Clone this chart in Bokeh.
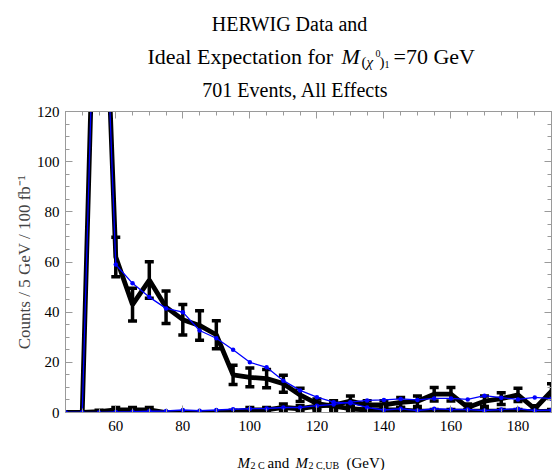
import math
from bokeh.plotting import figure
from bokeh.layouts import column
from bokeh.models import (Range1d, LinearAxis, Whisker, ColumnDataSource, Label,
                          TeeHead, SingleIntervalTicker)
from bokeh.embed import file_html
from bokeh.resources import INLINE

# ---------------- data ----------------
bins = [45, 50, 55, 60, 65, 70, 75, 80, 85, 90, 95, 100, 105, 110, 115, 120,
        125, 130, 135, 140, 145, 150, 155, 160, 165, 170, 175, 180, 185, 190]

# HERWIG data, M2C
data_m2c = [0, 0, 240, 62, 43, 52.8, 42, 37, 34.7, 31, 15, 14, 13.5, 11.5, 7, 3.5,
            2.5, 1.5, 1, 1, 1, 0.5, 0.5, 0.5, 0.5, 0.5, 0.5, 0.5, 0.3, 0.5]
# HERWIG data, M2C,UB
data_ub = [0, 0, 0.3, 1, 1, 1, 0, 0, 0, 0, 0.3, 1, 1, 2, 1.5, 2.5,
           3, 4.5, 3, 3, 4, 4.5, 7.3, 7.3, 2, 4.5, 5.5, 7, 1.5, 8.5]
# ideal expectation, M2C
ideal_m2c = [0, 0, 235, 59, 51.5, 46, 41.5, 40, 32.7, 29.6, 25, 20, 18, 12.7, 8.8, 6.1,
             4.1, 3.7, 2, 1, 1.5, 0.8, 1.5, 1.2, 1.2, 0.8, 1.2, 1.5, 0.8, 1]
# ideal expectation, M2C,UB
ideal_ub = [0, 0, 0, 0.2, 0.3, 0.5, 0.6, 1, 0.7, 1, 1.3, 1.5, 1.6, 2, 2, 2.7,
            3.2, 4.1, 4.8, 5, 5.4, 5, 5.6, 5.6, 5.2, 6.7, 5.9, 5.2, 6, 5.5]

x_tick_step = 20
y_tick_step = 20

SERIF = "Liberation Serif"
AX = "#9a9a9a"
W = 552
TOP_H = 100
MAIN_H = 343
BOT_H = 27
FRAME_LEFT = 65

# ---------------- main plot ----------------
p = figure(width=W, height=MAIN_H, output_backend="svg", toolbar_location=None,
           x_range=Range1d(45, 190), y_range=Range1d(0, 120),
           min_border_left=FRAME_LEFT, min_border_right=1, min_border_top=11,
           min_border_bottom=31, x_axis_location=None, y_axis_location=None)
p.xgrid.visible = False
p.ygrid.visible = False
p.outline_line_color = AX


def style_axis(ax, labels):
    ax.axis_line_color = AX
    ax.major_tick_line_color = AX
    ax.minor_tick_line_color = AX
    ax.major_tick_in = 7
    ax.major_tick_out = 0
    ax.minor_tick_in = 4
    ax.minor_tick_out = 0
    ax.major_label_text_font = SERIF
    ax.major_label_text_font_size = "15px"
    ax.major_label_text_color = "black"
    if not labels:
        ax.major_label_text_color = None
        ax.major_label_text_font_size = "0px"
        ax.major_label_standoff = 0


bx = LinearAxis(ticker=SingleIntervalTicker(interval=x_tick_step, num_minor_ticks=4))
style_axis(bx, True)
bx.major_label_standoff = 8
p.add_layout(bx, "below")
tx = LinearAxis(ticker=SingleIntervalTicker(interval=x_tick_step, num_minor_ticks=4))
style_axis(tx, False)
p.add_layout(tx, "above")

ly = LinearAxis(ticker=SingleIntervalTicker(interval=y_tick_step, num_minor_ticks=4))
style_axis(ly, True)
ly.major_label_standoff = 6
ly.axis_label = "Counts / 5 GeV / 100 fb\u207b\u00b9"
ly.axis_label_text_font = SERIF
ly.axis_label_text_font_style = "normal"
ly.axis_label_text_font_size = "17px"
ly.axis_label_standoff = 0
p.add_layout(ly, "left")
ry = LinearAxis(ticker=SingleIntervalTicker(interval=y_tick_step, num_minor_ticks=4))
style_axis(ry, False)
p.add_layout(ry, "right")

src_m = ColumnDataSource(dict(x=bins, y=data_m2c,
                              lo=[v - math.sqrt(v) for v in data_m2c],
                              hi=[v + math.sqrt(v) for v in data_m2c]))
src_u = ColumnDataSource(dict(x=bins, y=data_ub,
                              lo=[v - math.sqrt(v) for v in data_ub],
                              hi=[v + math.sqrt(v) for v in data_ub]))

for src in (src_u, src_m):
    p.line("x", "y", source=src, line_color="black", line_width=4.8)
    wk = Whisker(base="x", lower="lo", upper="hi", source=src,
                 line_color="black", line_width=3.5,
                 upper_head=TeeHead(size=9, line_color="black", line_width=3.5),
                 lower_head=TeeHead(size=9, line_color="black", line_width=3.5))
    p.add_layout(wk)

for ys in (ideal_ub, ideal_m2c):
    p.line(bins, ys, line_color="#0000ff", line_width=1.3)
    p.scatter(bins, ys, size=4.5, fill_color="#0000ff", line_color=None)


# ---------------- title and x label strips ----------------
def strip(h):
    f = figure(width=W, height=h, output_backend="svg", toolbar_location=None,
               x_range=Range1d(0, W), y_range=Range1d(0, h),
               min_border=0, x_axis_location=None, y_axis_location=None)
    f.xgrid.visible = False
    f.ygrid.visible = False
    f.outline_line_color = None
    return f


top = strip(TOP_H)
bot = strip(BOT_H)


def lab(fig, top_y, text, x, y, size, style="normal", align="left"):
    # x, y : page pixel position (baseline); frames are aligned at FRAME_LEFT
    h = fig.height
    fig.add_layout(Label(x=x - FRAME_LEFT, y=h - (y - top_y),
                         x_units="screen", y_units="screen",
                         text=text, text_font=SERIF, text_font_size=size,
                         text_font_style=style, text_align=align,
                         text_baseline="alphabetic", text_color="black"))


lab(top, 0, "HERWIG Data and", 289, 23, "20px", align="center")
lab(top, 0, "Ideal Expectation for", 147, 56, "22px")
lab(top, 0, "M", 341, 56, "22px", "italic")
lab(top, 0, "(", 361, 61, "15px")
lab(top, 0, "\u03c7", 366, 61, "15px", "italic")
lab(top, 0, "0", 375, 53, "10px")
lab(top, 0, ")", 379, 61, "15px")
lab(top, 0, "1", 384, 64, "10px")
lab(top, 0, "=70 GeV", 393, 56, "22px")
lab(top, 0, "701 Events, All Effects", 295, 89, "20px", align="center")

B0 = TOP_H + MAIN_H
lab(bot, B0, "M", 237, 462, "15px", "italic")
lab(bot, B0, "2 C", 250, 465, "10px")
lab(bot, B0, "and", 267, 462, "15px")
lab(bot, B0, "M", 295, 462, "15px", "italic")
lab(bot, B0, "2 C,UB", 308, 465, "10px")
lab(bot, B0, "(GeV)", 346, 462, "15px")

layout = column(top, p, bot, spacing=0)
open("out.html", "w").write(file_html(layout, INLINE))
